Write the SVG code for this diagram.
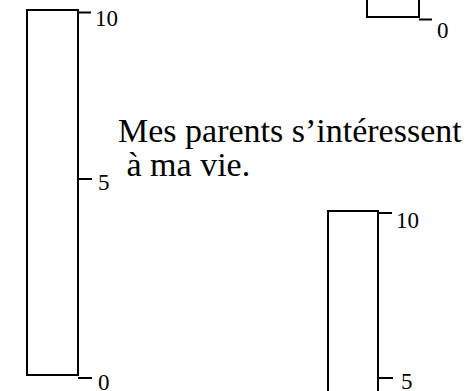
<svg xmlns="http://www.w3.org/2000/svg" width="468" height="391" viewBox="0 0 468 391">
<style>
.bar{fill:#fff;stroke:#000;stroke-width:2}
.tick{stroke:#000;stroke-width:2;fill:none}
.num{font-family:"Liberation Serif","Times New Roman",serif;font-size:23px;fill:#000}
.lbl{font-family:"Liberation Serif","Times New Roman",serif;font-size:34px;fill:#000}
</style>
<g id="scale-left">
<rect class="bar" x="27" y="10" width="51" height="365"/>
<line class="tick" x1="78" y1="12.5" x2="91" y2="12.5"/>
<text class="num" x="95" y="26">10</text>
<line class="tick" x1="78" y1="179" x2="92" y2="179"/>
<text class="num" x="98" y="190">5</text>
<line class="tick" x1="78" y1="378" x2="92" y2="378"/>
<text class="num" x="98" y="390">0</text>
</g>
<g id="scale-top-right">
<rect class="bar" x="367" y="-20" width="52" height="37"/>
<line class="tick" x1="419" y1="19.5" x2="432" y2="19.5"/>
<text class="num" x="437" y="38">0</text>
</g>
<g id="question">
<text class="lbl" x="118" y="142">Mes parents s’intéressent</text>
<text class="lbl" x="118" y="176" xml:space="preserve"> à ma vie.</text>
</g>
<g id="scale-right">
<rect class="bar" x="328" y="211" width="50" height="200"/>
<line class="tick" x1="378" y1="213" x2="392" y2="213"/>
<text class="num" x="396" y="228">10</text>
<line class="tick" x1="378" y1="378" x2="393" y2="378"/>
<text class="num" x="401" y="389">5</text>
</g>
<g id="connectors"/>
</svg>
